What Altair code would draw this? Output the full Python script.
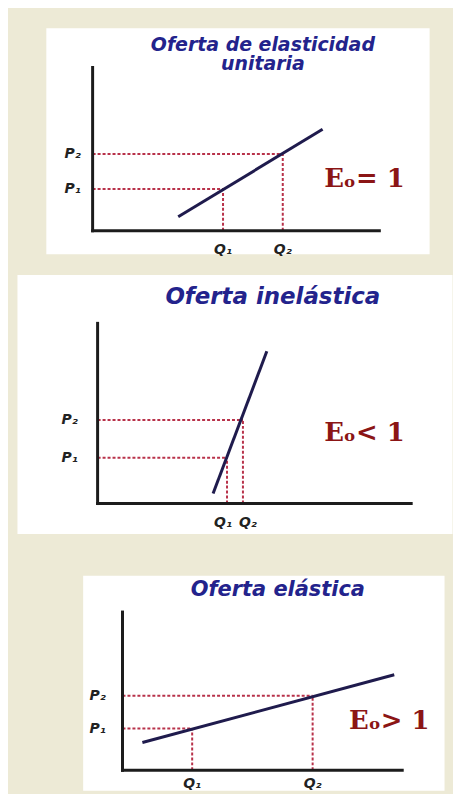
import altair as alt
import pandas as pd

# ---------------- data ----------------
titles = [["Oferta de elasticidad", "unitaria"], ["Oferta inelástica"], ["Oferta elástica"]]
elasticity_labels = ["Eₒ= 1", "Eₒ< 1", "Eₒ> 1"]
price_labels = ["P₁", "P₂"]
quantity_labels = ["Q₁", "Q₂"]

# supply line end points (quantity, price) per panel
supply_q = [[8.6, 23.1], [11.6, 17.0], [2.0, 27.3]]
supply_p = [[1.4, 10.2], [1.0, 15.3], [2.8, 9.6]]
# P1, P2 and Q1, Q2 per panel
price_values = [[4.2, 7.7], [4.6, 8.4], [4.2, 7.5]]
quantity_values = [[13.1, 19.1], [13.0, 14.6], [7.0, 19.1]]
# axis lengths per panel
axis_q_max = [28.8, 31.5, 28.1]
axis_p_max = [16.4, 18.1, 15.9]
# scale domains per panel (white panel extent)
x_domains = [[-4.7, 33.8], [-8.1, 35.6], [-4.0, 32.3]]
y_domains = [[-2.3, 20.4], [-3.0, 23.0], [-2.0, 19.6]]

AXIS_COLOR = "#1c1c1c"
LINE_COLOR = "#1f1b4d"
GUIDE_COLOR = "#b8324a"
TITLE_COLOR = "#23238c"
E_COLOR = "#8b1515"


def panel(i, w, h, title_xy, title_size, e_xy, p_dx, q_dy, q_dxs):
    xs = alt.Scale(domain=x_domains[i], nice=False, zero=False)
    ys = alt.Scale(domain=y_domains[i], nice=False, zero=False)

    axes_df = pd.DataFrame({
        "x1": [0, 0], "y1": [0, 0],
        "x2": [axis_q_max[i], 0], "y2": [0, axis_p_max[i]],
    })
    guide_rows = []
    for q, p in zip(quantity_values[i], price_values[i]):
        guide_rows.append({"x1": 0, "y1": p, "x2": q, "y2": p})
        guide_rows.append({"x1": q, "y1": 0, "x2": q, "y2": p})
    guides_df = pd.DataFrame(guide_rows)
    supply_df = pd.DataFrame({"q": supply_q[i], "p": supply_p[i]})
    plab_df = pd.DataFrame({"q": [0, 0], "p": price_values[i], "t": price_labels})
    one = pd.DataFrame({"v": [0]})

    def seg(df, **mk):
        return alt.Chart(df).mark_rule(**mk).encode(
            x=alt.X("x1:Q", scale=xs, axis=None),
            y=alt.Y("y1:Q", scale=ys, axis=None),
            x2="x2:Q", y2="y2:Q",
        )

    guides = seg(guides_df, color=GUIDE_COLOR, strokeDash=[3, 2], strokeWidth=2)
    axes = seg(axes_df, color=AXIS_COLOR, strokeWidth=3, strokeCap="square")
    supply = alt.Chart(supply_df).mark_line(color=LINE_COLOR, strokeWidth=3).encode(
        x=alt.X("q:Q", scale=xs, axis=None),
        y=alt.Y("p:Q", scale=ys, axis=None),
    )
    lab_style = dict(font="DejaVu Sans", fontStyle="italic", fontWeight="bold",
                     fontSize=14, color="#222222")
    plabs = alt.Chart(plab_df).mark_text(dx=p_dx, align="center", baseline="middle", **lab_style).encode(
        x=alt.X("q:Q", scale=xs, axis=None), y=alt.Y("p:Q", scale=ys, axis=None), text="t:N")
    qlabs = []
    for k in range(2):
        qdf = pd.DataFrame({"q": [quantity_values[i][k]], "p": [0], "t": [quantity_labels[k]]})
        qlabs.append(alt.Chart(qdf).mark_text(dx=q_dxs[k], dy=q_dy, align="center", baseline="middle",
                                              **lab_style).encode(
            x=alt.X("q:Q", scale=xs, axis=None), y=alt.Y("p:Q", scale=ys, axis=None), text="t:N"))
    title = alt.Chart(one).mark_text(
        font="DejaVu Sans", fontStyle="italic", fontWeight="bold", fontSize=title_size,
        color=TITLE_COLOR, align="center", baseline="top", lineHeight=20,
    ).encode(x=alt.value(title_xy[0]), y=alt.value(title_xy[1]), text=alt.value(titles[i]))
    elab = alt.Chart(one).mark_text(
        font="DejaVu Serif", fontWeight="bold", fontSize=26, color=E_COLOR,
        align="center", baseline="middle",
    ).encode(x=alt.value(e_xy[0]), y=alt.value(e_xy[1]), text=alt.value(elasticity_labels[i]))

    return alt.layer(guides, axes, supply, plabs, *qlabs, title, elab).properties(
        width=w, height=h, view=alt.ViewBackground(fill="white", stroke="transparent"))


def spacer(w, h):
    return alt.Chart(pd.DataFrame({"v": [0]})).mark_text(text="").properties(width=w, height=h)


p1 = panel(0, 385, 227, (218, 8), 19, (320, 152), -20, 19, (0, 0))
p2 = panel(1, 437, 260, (257, 12), 23, (349, 159), -28, 20, (-4, 5))
p3 = panel(2, 363, 216, (196, 4), 21, (308, 146), -25, 14, (0, 0))

row1 = alt.hconcat(spacer(37, 227), p1, spacing=0)
row2 = alt.hconcat(spacer(8, 260), p2, spacing=0)
row3 = alt.hconcat(spacer(74, 216), p3, spacing=0)

chart = alt.vconcat(row1, spacer(1, 16), row2, spacer(1, 40), row3, spacing=0).properties(
    padding={"left": 0, "top": 17, "right": 0, "bottom": 0},
    background="#edead6",
).configure_view(stroke="transparent")

chart.save("out.html", embed_options={"renderer": "svg", "actions": False})
